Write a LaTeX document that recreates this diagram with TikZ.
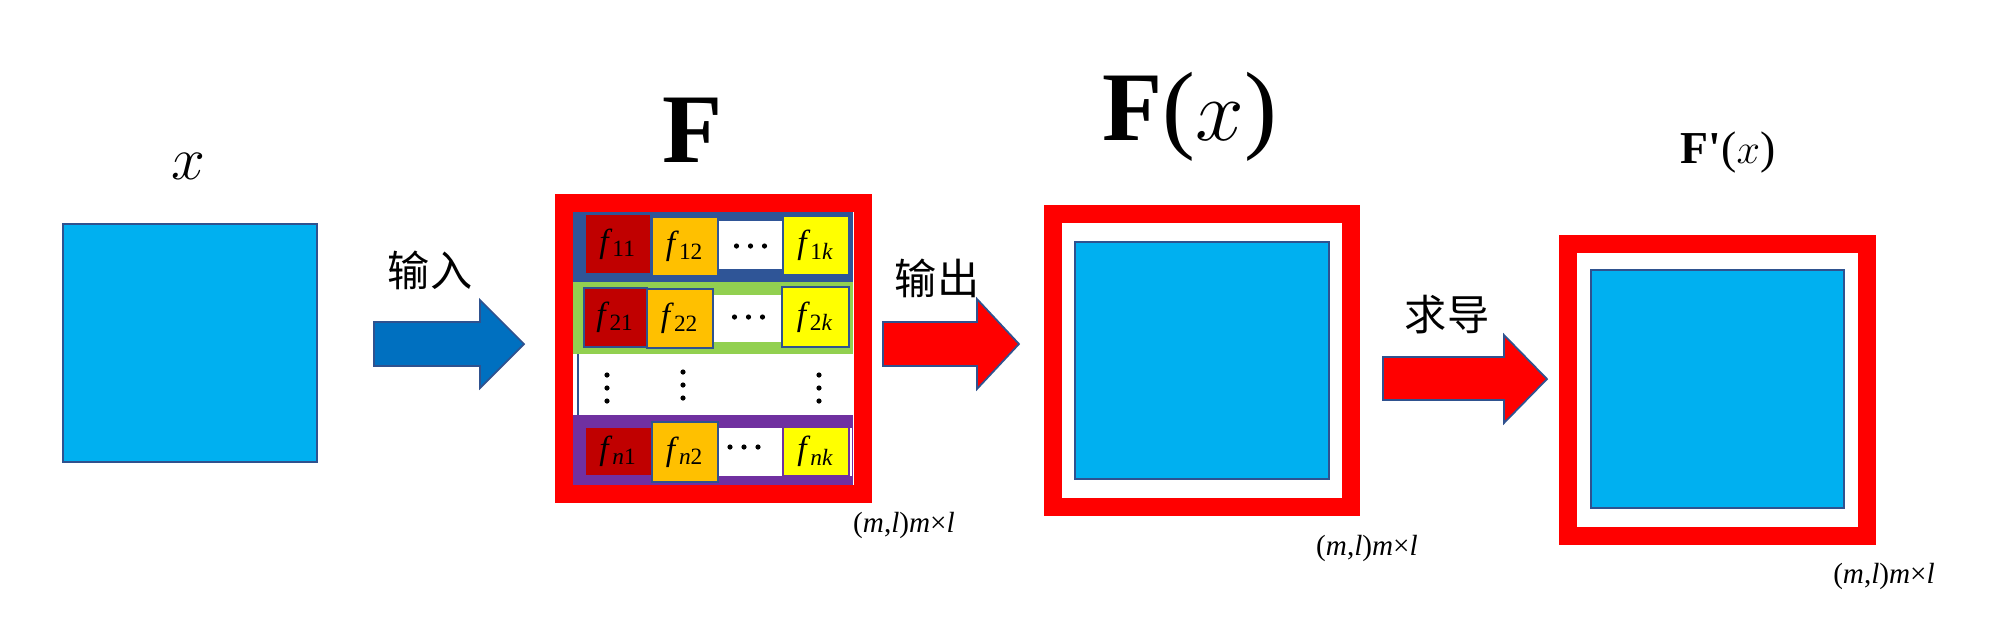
\documentclass[tikz,border=0pt]{standalone}
\usepackage{amsmath}
\usepackage{fontspec}
\setmainfont{Liberation Serif}
\newfontfamily\cjk{Noto Sans CJK SC}
\usetikzlibrary{calc, positioning}

\definecolor{sqblue}{HTML}{00B0F0}
\definecolor{edgeblue}{HTML}{2F528F}
\definecolor{arrowblue}{HTML}{0070C0}
\definecolor{rowblue}{HTML}{2F5597}
\definecolor{rowgreen}{HTML}{92D050}
\definecolor{rowpurple}{HTML}{7030A0}
\definecolor{darkred}{HTML}{C00000}
\definecolor{cellorange}{HTML}{FFC000}
\definecolor{cellyellow}{HTML}{FFFF00}

\begin{document}
\begin{tikzpicture}[x=0.1mm, y=-0.1mm,
  bluesq/.style={draw=edgeblue, line width=0.6pt, fill=sqblue, inner sep=0pt,
    minimum width=25.4mm, minimum height=23.8mm},
  redframe/.style={draw=red, line width=1.8mm, inner sep=0pt,
    minimum width=29.8mm, minimum height=29.2mm},
  cell/.style={inner sep=0pt, font=\fontsize{9.5}{9.5}\selectfont},
  edged/.style={draw=edgeblue, line width=0.8pt},
  blockarrow/.style={draw=edgeblue, line width=0.5pt},
  cnlabel/.style={font=\cjk\fontsize{12}{12}\selectfont},
  biglabel/.style={anchor=base, font=\fontsize{28}{30}\selectfont},
  sizelabel/.style={anchor=base, font=\fontsize{8.3}{9}\selectfont},
]
\useasboundingbox (0,0) rectangle (2003,631);

% input x
\node[bluesq] (xin) at (190,343) {};
\node[anchor=base, font=\fontsize{18}{18}\selectfont] (xlab) at (188,179) {$x$};

\draw[blockarrow, fill=arrowblue] (374,322) -- (480,322) -- (480,300) -- (524,344)
  -- (480,388) -- (480,366) -- (374,366) -- cycle;
\node[cnlabel] (inlab) at (430,270) {输入};

% filter bank F
\fill[rowblue] (573,212) rectangle (853,282);
\fill[rowgreen] (573,282) rectangle (853,354);
\fill[white] (573,354) rectangle (853,415);
\fill[rowpurple] (573,415) rectangle (853,485);
\draw[edgeblue, line width=0.8pt] (578,354) -- (578,415);

\node[cell, fill=darkred, minimum width=6.4mm, minimum height=5.8mm] (f11) at (618,244) {\textit{f}\textsubscript{11}};
\node[cell, fill=cellorange, minimum width=6.4mm, minimum height=5.7mm] (f12) at (685,246.5) {\textit{f}\textsubscript{12}};
\node[cell, fill=white, minimum width=6.3mm, minimum height=4.8mm] (d1) at (750.5,245) {};
\node[cell, fill=cellyellow, minimum width=6.4mm, minimum height=5.7mm] (f1k) at (816,245.5) {\textit{f}\textsubscript{1\textit{k}}};

\node[cell, fill=white, minimum width=6.9mm, minimum height=4.7mm] (d2) at (747.5,318.5) {};
\node[cell, edged, fill=darkred, minimum width=6.3mm, minimum height=5.9mm] (f21) at (615.5,317.5) {\textit{f}\textsubscript{21}};
\node[cell, edged, fill=cellorange, minimum width=6.6mm, minimum height=5.9mm] (f22) at (680,318.5) {\textit{f}\textsubscript{22}};
\node[cell, edged, fill=cellyellow, minimum width=6.7mm, minimum height=6.0mm] (f2k) at (815.5,317) {\textit{f}\textsubscript{2\textit{k}}};

\node[cell, fill=darkred, minimum width=6.5mm, minimum height=4.7mm] (fn1) at (618.5,451.5) {\textit{f}\textsubscript{\textit{n}1}};
\node[cell, fill=white, minimum width=6.4mm, minimum height=4.8mm] (d4) at (750,452) {};
\node[cell, edged, fill=cellorange, minimum width=6.6mm, minimum height=6.0mm] (fn2) at (685,452) {\textit{f}\textsubscript{\textit{n}2}};
\node[cell, fill=cellyellow, minimum width=6.4mm, minimum height=4.7mm] (fnk) at (816,451.5) {\textit{f}\textsubscript{\textit{nk}}};
\draw[white, line width=0.6pt] (851,428) -- (851,476);

% dots
\foreach \dx in {-14,0,14} {
  \fill ($(d1)+(\dx,1)$) circle (2.6);
  \fill ($(d2)+(\dx+1,-1.5)$) circle (2.6);
  \fill ($(d4)+(\dx-6,-5)$) circle (2.6);
}
\foreach \dy in {-13,0,13} {
  \fill (607,388+\dy) circle (2.6);
  \fill (683,385+\dy) circle (2.6);
  \fill (819,388+\dy) circle (2.6);
}

\node[redframe, minimum width=29.9mm, minimum height=29.1mm] (Fbox) at (713.5,348.5) {};
\node[biglabel] (Flab) at (693,162) {\textbf{F}};
\node[sizelabel] (Fsize) at (904,532) {(\textit{m},\textit{l})\textit{m}×\textit{l}};

\draw[blockarrow, fill=red] (883,322) -- (977,322) -- (977,299) -- (1019,344)
  -- (977,389) -- (977,366) -- (883,366) -- cycle;
\node[cnlabel] (outlab) at (937,278) {输出};

% output F(x)
\node[redframe, minimum height=29.3mm] (Fxbox) at (1202,360.5) {};
\node[bluesq, minimum height=23.7mm] (Fx) at (1202,360.5) {};
\node[biglabel] (Fxlab) at (1190,140) {\textbf{F}($x$)};
\node[sizelabel] (Fxsize) at (1367,555) {(\textit{m},\textit{l})\textit{m}×\textit{l}};

\draw[blockarrow, fill=red] (1383,357) -- (1504,357) -- (1504,335) -- (1547,379)
  -- (1504,423) -- (1504,400) -- (1383,400) -- cycle;
\node[cnlabel] (derlab) at (1447,315) {求导};

% derivative F'(x)
\node[redframe, minimum width=29.9mm] (Fdbox) at (1717.5,390) {};
\node[bluesq, minimum width=25.3mm] (Fd) at (1717.5,389) {};
\node[anchor=base, font=\fontsize{13}{14}\selectfont] (Fdlab) at (1728,163) {\textbf{F\textquotesingle}($x$)};
\node[sizelabel] (Fdsize) at (1884,583) {(\textit{m},\textit{l})\textit{m}×\textit{l}};
\end{tikzpicture}
\end{document}
